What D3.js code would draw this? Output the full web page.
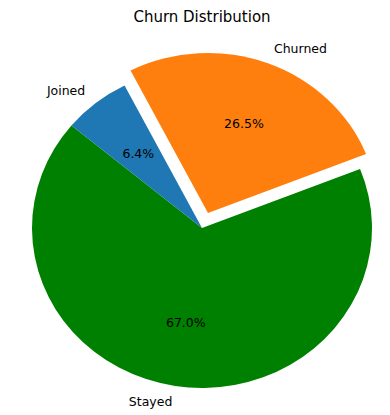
<!DOCTYPE html>
<html>
<head>
<meta charset="utf-8">
<script src="https://cdn.jsdelivr.net/npm/d3@7"></script>
<style>
  body { margin: 0; background: #fff; }
  text { font-family: 'DejaVu Sans', sans-serif; fill: #000; }
</style>
</head>
<body>
<div id="chart"></div>
<script>
const categories = ['Churned', 'Stayed', 'Joined']
const values = [26.5, 67.0, 6.4]
const colors = ['#ff7f0e', '#008000', '#1f77b4']
const explode = [0.1, 0, 0]

const width = 390
const height = 415
const cx = 202
const cy = 228
const r = 170
const ky = 160 / 170 // picture is a bit squashed vertically

const svg = d3.select('#chart')
  .append('svg')
  .attr('width', width)
  .attr('height', height)

svg.append('text')
  .attr('x', 202)
  .attr('y', 17)
  .attr('text-anchor', 'middle')
  .attr('dominant-baseline', 'central')
  .attr('font-size', '15px')
  .text('Churn Distribution')

const data = categories.map((c, i) => ({ name: c, value: values[i], color: colors[i], explode: explode[i] }))

const total = d3.sum(values)
const start = -27.1 * Math.PI / 180
const pie = d3.pie()
  .sort(null)
  .value(d => d.value)
  .startAngle(start)
  .endAngle(start + 2 * Math.PI)

const arcs = pie(data)
const arc = d3.arc().innerRadius(0).outerRadius(r)

// point at distance dist along angle a, in page coords (with squash)
const pos = (a, dist) => [dist * Math.sin(a), -dist * Math.cos(a) * ky]

const g = svg.append('g')

arcs.forEach(d => {
  d.mid = (d.startAngle + d.endAngle) / 2
  const off = pos(d.mid, d.data.explode * r)
  d.ox = cx + off[0]
  d.oy = cy + off[1]
})

g.selectAll('path')
  .data(arcs)
  .join('path')
  .attr('d', arc)
  .attr('fill', d => d.data.color)
  .attr('transform', d => `translate(${d.ox},${d.oy}) scale(1,${ky})`)

// category labels
g.selectAll('text.label')
  .data(arcs)
  .join('text')
  .attr('class', 'label')
  .attr('x', d => d.ox + pos(d.mid, 1.1 * r)[0])
  .attr('y', d => d.oy + pos(d.mid, 1.1 * r)[1])
  .attr('text-anchor', d => (Math.sin(d.mid) > 0 ? 'start' : 'end'))
  .attr('dominant-baseline', 'central')
  .attr('font-size', '12.5px')
  .text(d => d.data.name)

// percentages
g.selectAll('text.pct')
  .data(arcs)
  .join('text')
  .attr('class', 'pct')
  .attr('x', d => d.ox + pos(d.mid, 0.6 * r)[0])
  .attr('y', d => d.oy + pos(d.mid, 0.6 * r)[1])
  .attr('text-anchor', 'middle')
  .attr('dominant-baseline', 'central')
  .attr('font-size', '12.5px')
  .text(d => d.data.value.toFixed(1) + '%')
</script>
</body>
</html>
